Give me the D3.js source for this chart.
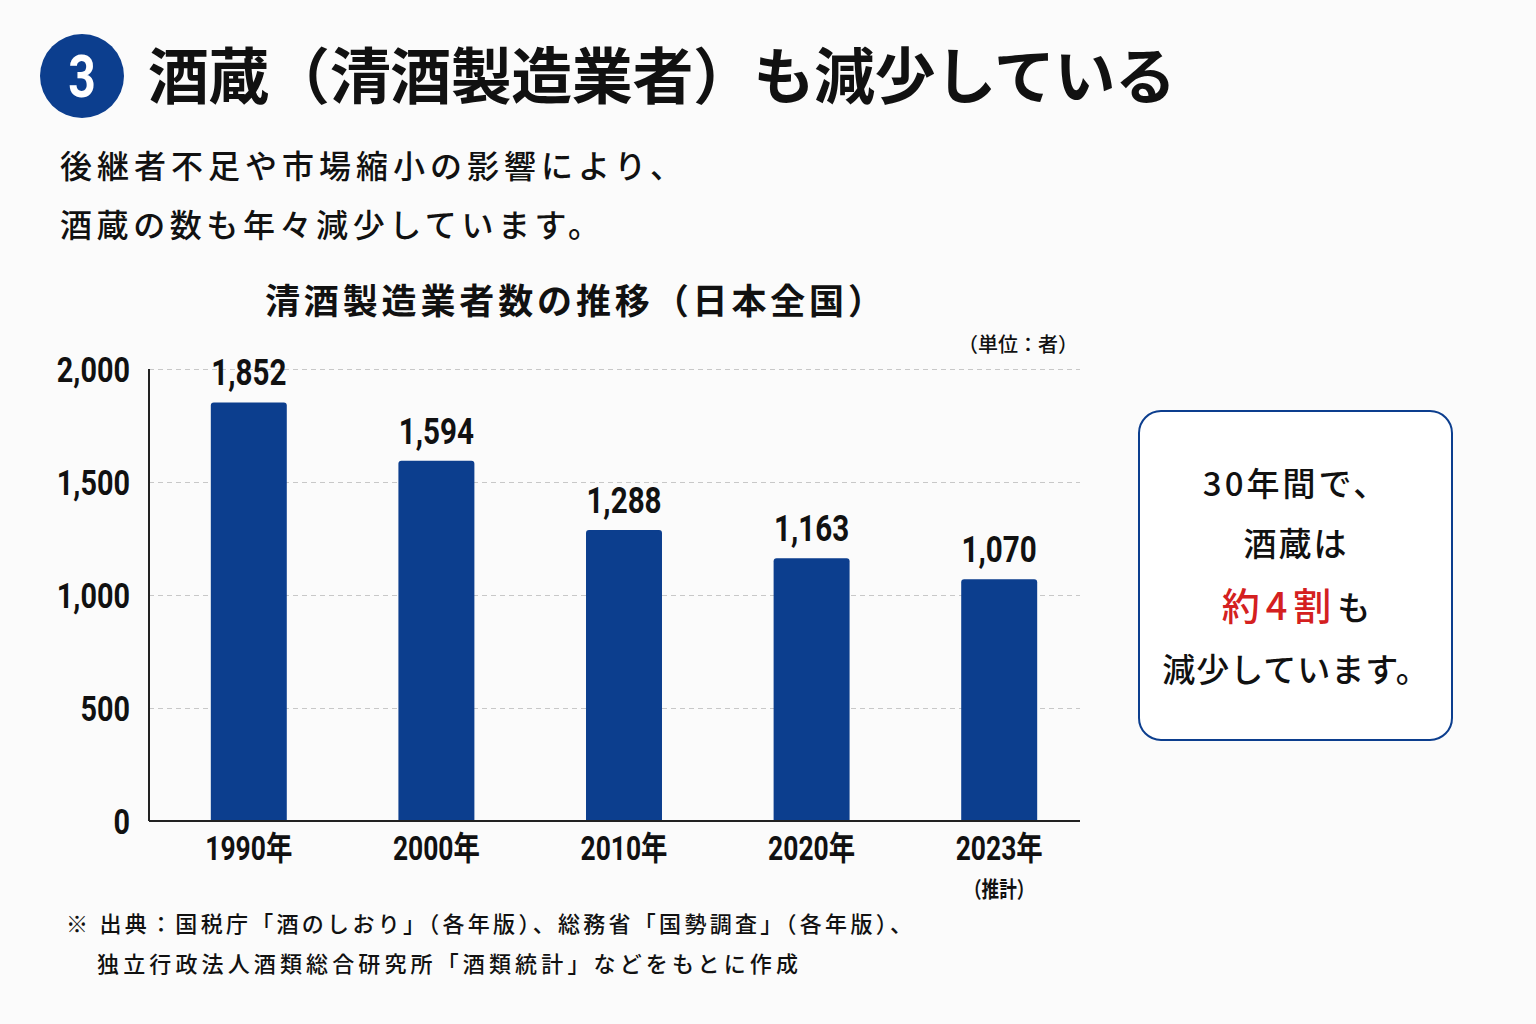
<!DOCTYPE html>
<html lang="ja">
<head>
<meta charset="utf-8">
<script src="https://cdn.jsdelivr.net/npm/d3@7"></script>
<style>
  html, body { margin: 0; padding: 0; background: #fbfbfb; }
  svg { display: block; }
  text { font-family: "Noto Sans CJK JP", "Noto Sans", sans-serif; fill: #111; }
  .num { font-family: Roboto, "Noto Sans CJK JP", sans-serif; font-weight: 700; }
</style>
</head>
<body>
<div id="chart"></div>
<script>
// data
var years = ["1990年", "2000年", "2010年", "2020年", "2023年"];
var counts = [1852, 1594, 1288, 1163, 1070];
var yTicks = [0, 500, 1000, 1500, 2000];
var subLabels = ["", "", "", "", "（推計）"];

var W = 1536, H = 1024;
var navy = "#0c3e8e";
var squeeze = 0.8;

// narrow the numbers horizontally, like the condensed face in the original
function condense(sel) {
  sel.each(function() {
    var t = d3.select(this);
    var tx = +t.attr("x") || 0;
    t.attr("x", tx / squeeze).attr("transform", "scale(" + squeeze + ",1)");
  });
}

var svg = d3.select("#chart").append("svg")
    .attr("width", W).attr("height", H);

svg.append("rect").attr("width", W).attr("height", H).attr("fill", "#fbfbfb");

// header
svg.append("circle").attr("cx", 82).attr("cy", 76).attr("r", 42).attr("fill", navy);
svg.append("text").attr("x", 82).attr("y", 97)
    .attr("text-anchor", "middle")
    .style("font-family", "Roboto, sans-serif").style("font-weight", 700)
    .style("font-size", "60px").style("fill", "#fff")
    .call(condense)
    .text("3");

svg.append("text").attr("x", 148).attr("y", 99)
    .style("font-size", "61px").style("font-weight", 700)
    .attr("textLength", 1028).attr("lengthAdjust", "spacing")
    .text("酒蔵（清酒製造業者）も減少している");

svg.append("text").attr("x", 60).attr("y", 178)
    .style("font-size", "32px").style("font-weight", 500)
    .attr("textLength", 622).attr("lengthAdjust", "spacing")
    .text("後継者不足や市場縮小の影響により、");
svg.append("text").attr("x", 60).attr("y", 237)
    .style("font-size", "32px").style("font-weight", 500)
    .attr("textLength", 540).attr("lengthAdjust", "spacing")
    .text("酒蔵の数も年々減少しています。");

svg.append("text").attr("x", 265).attr("y", 314)
    .style("font-size", "35px").style("font-weight", 700)
    .attr("textLength", 618).attr("lengthAdjust", "spacing")
    .text("清酒製造業者数の推移（日本全国）");

svg.append("text").attr("x", 1078).attr("y", 352)
    .attr("text-anchor", "end")
    .style("font-size", "20px").style("font-weight", 500)
    .text("（単位：者）");

// chart
var x0 = 149, x1 = 1080, yTop = 369, yBot = 821;

var x = d3.scaleBand()
    .domain(years)
    .range([155, 1093])
    .paddingInner(0.595)
    .paddingOuter(0.2975);

var y = d3.scaleLinear()
    .domain([0, 2000])
    .range([yBot, yTop]);

// gridlines
var grid = svg.append("g")
    .attr("transform", "translate(" + x0 + ",0)")
    .call(d3.axisLeft(y).tickValues(yTicks.slice(1)).tickSize(-(x1 - x0)).tickFormat(""));
grid.select(".domain").remove();
grid.selectAll("line")
    .attr("stroke", "#c8c8c8").attr("stroke-width", 1).attr("stroke-dasharray", "5,4");

// y axis labels
var yAxis = svg.append("g")
    .attr("transform", "translate(" + x0 + ",0)")
    .call(d3.axisLeft(y).tickValues(yTicks).tickSize(0).tickPadding(19).tickFormat(d3.format(",")));
yAxis.select(".domain").remove();
yAxis.selectAll("text")
    .attr("class", "num")
    .attr("dy", "0.36em")
    .style("font-size", "36px")
    .style("fill", "#111")
    .call(condense);

// bars
svg.append("g").selectAll("path")
    .data(counts).enter()
    .append("path")
    .attr("fill", navy)
    .attr("d", function(d, i) {
      var bx = x(years[i]), bw = x.bandwidth(), by = y(d), r = 3;
      return "M" + bx + "," + yBot +
        "V" + (by + r) +
        "Q" + bx + "," + by + " " + (bx + r) + "," + by +
        "H" + (bx + bw - r) +
        "Q" + (bx + bw) + "," + by + " " + (bx + bw) + "," + (by + r) +
        "V" + yBot + "Z";
    });

// value labels
svg.append("g").selectAll("text")
    .data(counts).enter()
    .append("text")
    .attr("class", "num")
    .attr("x", function(d, i) { return x(years[i]) + x.bandwidth() / 2; })
    .attr("y", function(d) { return y(d) - 17; })
    .attr("text-anchor", "middle")
    .style("font-size", "37px")
    .text(d3.format(","))
    .call(condense);

// axis lines
svg.append("line")
    .attr("x1", x0).attr("x2", x0).attr("y1", yTop).attr("y2", yBot)
    .attr("stroke", "#222").attr("stroke-width", 2);

var xAxis = svg.append("g")
    .attr("transform", "translate(0," + yBot + ")")
    .call(d3.axisBottom(x).tickSize(0).tickPadding(16));
xAxis.select(".domain").remove();
xAxis.selectAll("text")
    .attr("class", "num")
    .style("font-size", "33px")
    .style("fill", "#111")
    .call(condense);
svg.append("line")
    .attr("x1", x0).attr("x2", x1).attr("y1", yBot).attr("y2", yBot)
    .attr("stroke", "#222").attr("stroke-width", 2);

svg.append("g").selectAll("text")
    .data(subLabels).enter()
    .append("text")
    .attr("x", function(d, i) { return x(years[i]) + x.bandwidth() / 2; })
    .attr("y", 897)
    .attr("text-anchor", "middle")
    .style("font-size", "22px").style("font-weight", 700)
    .text(function(d) { return d; })
    .call(condense);

// footnote
svg.append("text").attr("x", 66).attr("y", 932)
    .style("font-size", "22px").style("font-weight", 500)
    .attr("textLength", 846).attr("lengthAdjust", "spacing")
    .text("※ 出典：国税庁「酒のしおり」（各年版）、総務省「国勢調査」（各年版）、");
svg.append("text").attr("x", 97).attr("y", 972)
    .style("font-size", "22px").style("font-weight", 500)
    .attr("textLength", 701).attr("lengthAdjust", "spacing")
    .text("独立行政法人酒類総合研究所「酒類統計」などをもとに作成");

// callout box
svg.append("rect")
    .attr("x", 1139).attr("y", 411).attr("width", 313).attr("height", 329)
    .attr("rx", 22).attr("fill", "#fff")
    .attr("stroke", navy).attr("stroke-width", 2);

var cx = 1296;
svg.append("text").attr("x", cx).attr("y", 496).attr("text-anchor", "middle")
    .style("font-size", "33px").style("font-weight", 500).style("letter-spacing", "3px")
    .text("30年間で、");
svg.append("text").attr("x", cx).attr("y", 556).attr("text-anchor", "middle")
    .style("font-size", "33px").style("font-weight", 500).style("letter-spacing", "2px")
    .text("酒蔵は");
var t3 = svg.append("text").attr("x", cx).attr("y", 620).attr("text-anchor", "middle")
    .style("font-weight", 500);
t3.append("tspan").style("fill", "#d42020").style("font-size", "38px").style("letter-spacing", "6px").text("約4割");
t3.append("tspan").style("font-size", "33px").text("も");
svg.append("text").attr("x", cx).attr("y", 682).attr("text-anchor", "middle")
    .style("font-size", "33px").style("font-weight", 500).style("letter-spacing", "1px")
    .text("減少しています。");
</script>
</body>
</html>
